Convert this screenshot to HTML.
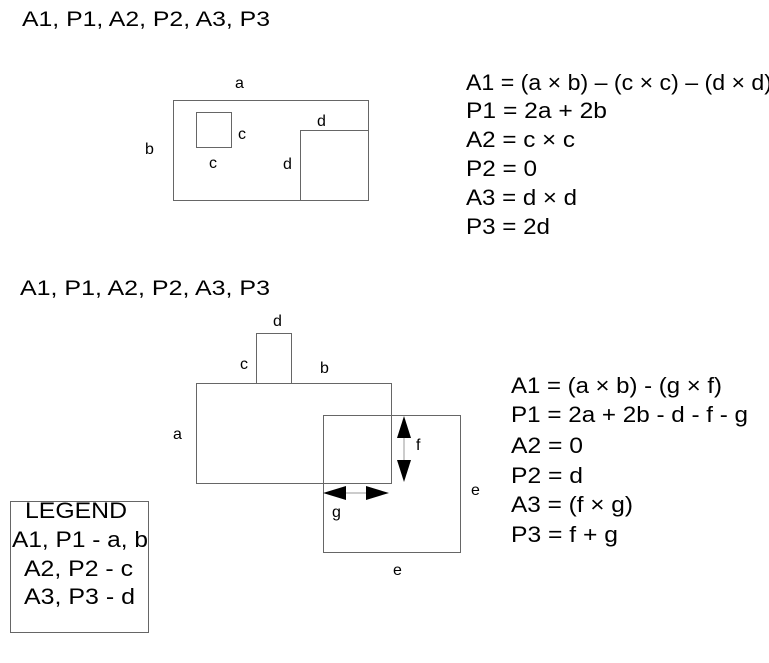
<!DOCTYPE html>
<html><head><style>body{margin:0;background:#fff}svg{display:block}</style></head><body>
<svg width="769" height="663" viewBox="0 0 769 663" xmlns="http://www.w3.org/2000/svg" font-family="Liberation Sans, sans-serif" fill="#000">
<g fill="none" stroke="#666" stroke-width="1">
<rect x="173.5" y="100.5" width="195" height="100"/>
<rect x="196.5" y="112.5" width="35" height="35"/>
<rect x="300.5" y="130.5" width="68" height="70"/>
<rect x="196.5" y="383.5" width="195" height="100"/>
<rect x="256.5" y="333.5" width="35" height="50"/>
<rect x="323.5" y="415.5" width="137" height="137"/>
<rect x="10.5" y="501.5" width="138" height="131"/>
<line x1="404" y1="430" x2="404" y2="470" stroke="#999"/>
<line x1="340" y1="493" x2="372" y2="493" stroke="#999"/>
</g>
<polygon points="404,416 397,438 411,438"/>
<polygon points="404,482 397,460 411,460"/>
<polygon points="323,493 346,486 346,500"/>
<polygon points="389,493 366,486 366,500"/>
<g font-size="21">
<text x="22" y="26" textLength="248" lengthAdjust="spacingAndGlyphs">A1, P1, A2, P2, A3, P3</text>
<text x="20" y="295" textLength="250" lengthAdjust="spacingAndGlyphs">A1, P1, A2, P2, A3, P3</text>
</g>
<g font-size="16">
<text x="235" y="88">a</text><text x="145" y="154">b</text><text x="238" y="139">c</text><text x="209" y="168">c</text>
<text x="317" y="126">d</text><text x="283" y="169">d</text>
<text x="273" y="326">d</text><text x="240" y="369">c</text><text x="320" y="373">b</text><text x="173" y="439">a</text>
<text x="416" y="450">f</text><text x="471" y="495">e</text><text x="332" y="517">g</text><text x="393" y="575">e</text>
</g>
<g font-size="22">
<text x="466" y="90" textLength="306" lengthAdjust="spacingAndGlyphs">A1 = (a × b) – (c × c) – (d × d)</text>
<text x="466" y="118" textLength="141" lengthAdjust="spacingAndGlyphs">P1 = 2a + 2b</text>
<text x="466" y="147" textLength="109" lengthAdjust="spacingAndGlyphs">A2 = c × c</text>
<text x="466" y="176" textLength="71" lengthAdjust="spacingAndGlyphs">P2 = 0</text>
<text x="466" y="205" textLength="111" lengthAdjust="spacingAndGlyphs">A3 = d × d</text>
<text x="466" y="234" textLength="84" lengthAdjust="spacingAndGlyphs">P3 = 2d</text>
<text x="511" y="393" textLength="211" lengthAdjust="spacingAndGlyphs">A1 = (a × b) - (g × f)</text>
<text x="511" y="422" textLength="237" lengthAdjust="spacingAndGlyphs">P1 = 2a + 2b - d - f - g</text>
<text x="511" y="453" textLength="72" lengthAdjust="spacingAndGlyphs">A2 = 0</text>
<text x="511" y="483" textLength="72" lengthAdjust="spacingAndGlyphs">P2 = d</text>
<text x="511" y="512" textLength="122" lengthAdjust="spacingAndGlyphs">A3 = (f × g)</text>
<text x="511" y="542" textLength="107" lengthAdjust="spacingAndGlyphs">P3 = f + g</text>
</g>
<g font-size="22">
<text x="25" y="518" textLength="102" lengthAdjust="spacingAndGlyphs">LEGEND</text>
<text x="12" y="547" textLength="136" lengthAdjust="spacingAndGlyphs">A1, P1 - a, b</text>
<text x="24" y="576" textLength="109" lengthAdjust="spacingAndGlyphs">A2, P2 - c</text>
<text x="24" y="604" textLength="111" lengthAdjust="spacingAndGlyphs">A3, P3 - d</text>
</g>
</svg>
</body></html>
